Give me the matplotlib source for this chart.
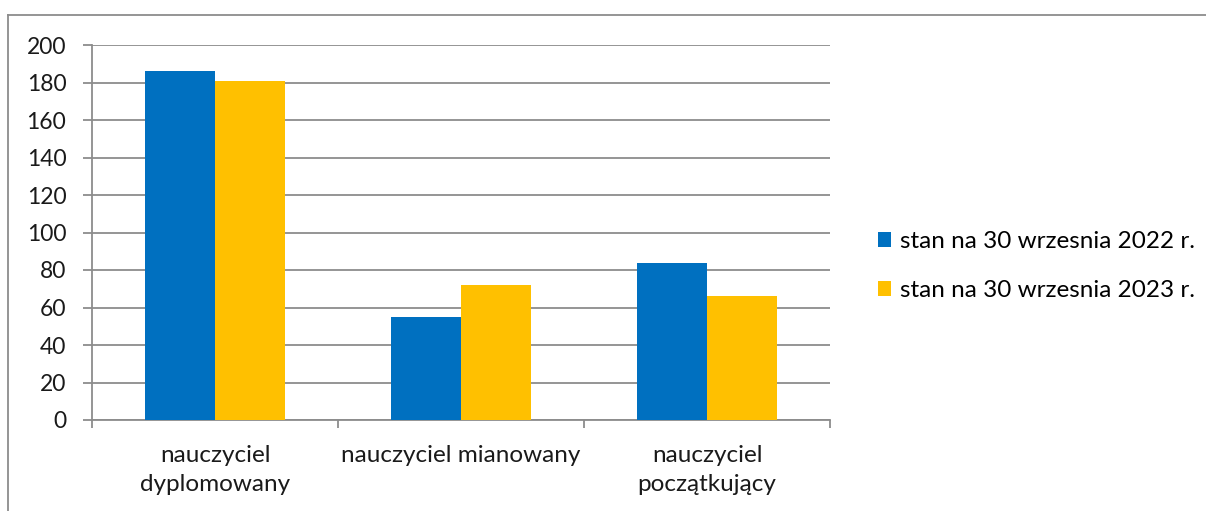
import numpy as np
import matplotlib.pyplot as plt
from matplotlib.lines import Line2D

categories = ['nauczyciel\ndyplomowany', 'nauczyciel mianowany', 'nauczyciel\npoczątkujący']
series_2022 = [186, 55, 84]
series_2023 = [181, 72, 66]
labels = ['stan na 30 wrzesnia 2022 r.', 'stan na 30 wrzesnia 2023 r.']
colors = ['#0070C0', '#FFC000']

plt.rcParams['font.family'] = ['Lato', 'DejaVu Sans']

fig = plt.figure(figsize=(12.06, 5.11), dpi=100)
ax = fig.add_axes([92/1206, 1-420/511, 738/1206, 375/511])

x = np.arange(len(categories))
w = 0.285
b1 = ax.bar(x - w/2, series_2022, w, color=colors[0], label=labels[0], zorder=3)
b2 = ax.bar(x + w/2, series_2023, w, color=colors[1], label=labels[1], zorder=3)

ax.set_xlim(-0.5, 2.5)
ax.set_ylim(0, 200)
ax.set_yticks(np.arange(0, 201, 20))
ax.grid(axis='y', color='#8c8c8c', linewidth=1.3, zorder=0)

ax.set_xticks(x)
ax.set_xticklabels(categories, fontsize=17.5, color='#1a1a1a', linespacing=1.45)
ax.set_xticks([-0.5, 0.5, 1.5, 2.5], minor=True)
ax.tick_params(axis='x', which='major', length=0, pad=18)
ax.tick_params(axis='x', which='minor', length=6, width=1.3, color='#8c8c8c')
ax.tick_params(axis='y', length=6.5, width=1.3, color='#8c8c8c', labelsize=16.5, labelcolor='#1a1a1a', pad=12)

for s in ['top', 'right']:
    ax.spines[s].set_visible(False)
for s in ['left', 'bottom']:
    ax.spines[s].set_color('#8c8c8c')
    ax.spines[s].set_linewidth(1.3)

ax.legend(handles=[b1, b2], loc='center left', bbox_to_anchor=(1.035, 0.41), frameon=False,
          fontsize=17.5, handlelength=0.55, handleheight=0.55, handletextpad=0.35, labelspacing=1.15)

# outer chart border (top and left only visible)
fig.add_artist(Line2D([8/1206, 8/1206], [0, 1-15/511], color='#8c8c8c', linewidth=1.3))
fig.add_artist(Line2D([8/1206, 1], [1-15/511, 1-15/511], color='#8c8c8c', linewidth=1.3))

fig.savefig('out.png', dpi=100)
